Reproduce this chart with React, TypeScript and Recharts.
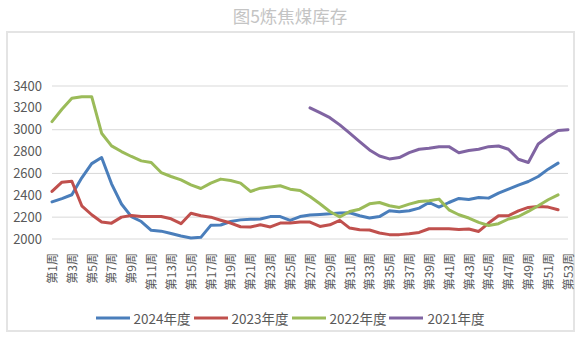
import React from "react";
import { LineChart, Line, XAxis, YAxis, CartesianGrid } from "recharts";

const weeks: string[] = Array.from({ length: 53 }, (_, i) => `第${i + 1}周`);

const s2024: (number | null)[] = [
  2340, 2370, 2405, 2560, 2690, 2745, 2505, 2320, 2205, 2160,
  2080, 2072, 2050, 2028, 2010, 2015, 2125, 2128, 2160, 2175,
  2180, 2183, 2205, 2205, 2170, 2205, 2220, 2225, 2230, 2238,
  2240, 2213, 2192, 2205, 2258, 2250, 2258, 2283, 2334, 2292,
  2334, 2371, 2362, 2380, 2374, 2420, 2456, 2493, 2526, 2572,
  2639, 2694, null,
];

const s2023: (number | null)[] = [
  2435, 2520, 2528, 2304, 2222, 2155, 2145, 2200, 2215, 2206,
  2206, 2206, 2185, 2140, 2235, 2213, 2200, 2172, 2146, 2112,
  2110, 2130, 2110, 2146, 2146, 2155, 2155, 2115, 2130, 2170,
  2100, 2085, 2082, 2055, 2040, 2040, 2048, 2060, 2094, 2094,
  2094, 2088, 2092, 2069, 2146, 2213, 2213, 2258, 2289, 2298,
  2292, 2267, null,
];

const s2022: (number | null)[] = [
  3074, 3187, 3287, 3302, 3302, 2968, 2852, 2800, 2755, 2715,
  2700, 2608, 2572, 2541, 2496, 2462, 2511, 2548, 2535, 2511,
  2435, 2465, 2475, 2487, 2456, 2444, 2389, 2322, 2252, 2201,
  2252, 2273, 2322, 2334, 2304, 2289, 2319, 2343, 2350, 2365,
  2267, 2222, 2192, 2152, 2124, 2140, 2183, 2206, 2252, 2304,
  2359, 2404, null,
];

const s2021: (number | null)[] = [
  null, null, null, null, null, null, null, null, null, null,
  null, null, null, null, null, null, null, null, null, null,
  null, null, null, null, null, null, 3200, 3156, 3110, 3044,
  2968, 2891, 2815, 2760, 2733, 2745, 2790, 2821, 2830, 2845,
  2845, 2790, 2809, 2821, 2845, 2851, 2821, 2730, 2700, 2870,
  2937, 2992, 3000,
];

const yTicks = [2000, 2200, 2400, 2600, 2800, 3000, 3200, 3400];
const seriesKeys = ["y2024", "y2023", "y2022", "y2021"];
const seriesNames = ["2024年度", "2023年度", "2022年度", "2021年度"];
const seriesColors = ["#4A7EBB", "#C0504D", "#9BBB59", "#8064A2"];
const seriesValues = [s2024, s2023, s2022, s2021];
const titleText = "图5炼焦煤库存";

const data = weeks.map((w, i) => {
  const row: Record<string, string | number | null> = { week: w };
  seriesKeys.forEach((k, j) => {
    row[k] = seriesValues[j][i];
  });
  return row;
});

const FONT = '"Noto Sans CJK SC", "Noto Sans", sans-serif';

const WeekTick = (props: any) => {
  const { x, y, payload } = props;
  return (
    <g transform={`translate(${x},${y})`}>
      <text
        transform="rotate(-90)"
        textAnchor="end"
        dy="0.4em"
        fill="#595959"
        fontSize={12}
        fontFamily={FONT}
      >
        {payload.value}
      </text>
    </g>
  );
};

export default function App() {
  return (
    <div
      style={{
        position: "absolute",
        left: 0,
        top: 0,
        width: 580,
        height: 337,
        background: "#ffffff",
        overflow: "hidden",
      }}
    >
      <div
        style={{
          position: "absolute",
          left: 0,
          top: 4,
          width: 580,
          textAlign: "center",
          fontSize: 17.5,
          color: "#c4c4c4",
          fontFamily: FONT,
          lineHeight: "24px",
        }}
      >
        {titleText}
      </div>
      <div
        style={{
          position: "absolute",
          left: 6,
          top: 31,
          width: 569,
          height: 301,
          boxSizing: "border-box",
          border: "2px solid #e4e4e4",
        }}
      />
      <div style={{ position: "absolute", left: 0, top: 0 }}>
        <LineChart
          width={580}
          height={337}
          data={data}
          margin={{ top: 86, right: 12, left: 0, bottom: 0 }}
        >
          <CartesianGrid vertical={false} stroke="#d9d9d9" strokeWidth={1} />
          <XAxis
            dataKey="week"
            interval={1}
            height={98}
            axisLine={false}
            tickLine={false}
            tickSize={6}
            tickMargin={8}
            tick={<WeekTick />}
          />
          <YAxis
            width={52}
            domain={[2000, 3400]}
            ticks={yTicks}
            axisLine={false}
            tickLine={false}
            tickSize={6}
            tickMargin={4}
            tick={{ fill: "#595959", fontSize: 13, fontFamily: FONT }}
          />
          {seriesKeys.map((k, j) => (
            <Line
              key={k}
              type="linear"
              dataKey={k}
              name={seriesNames[j]}
              stroke={seriesColors[j]}
              strokeWidth={3}
              dot={false}
              activeDot={false}
              strokeLinejoin="round"
              strokeLinecap="round"
              isAnimationActive={false}
            />
          ))}
        </LineChart>
      </div>
      <div
        style={{
          position: "absolute",
          left: 0,
          top: 308,
          width: 580,
          display: "flex",
          justifyContent: "center",
          alignItems: "center",
          fontFamily: FONT,
          fontSize: 13.5,
          color: "#595959",
          lineHeight: "20px",
        }}
      >
        {seriesNames.map((n, j) => (
          <div key={n} style={{ display: "flex", alignItems: "center", marginRight: j < 3 ? 3 : 0 }}>
            <svg width={34} height={4} style={{ marginRight: 4 }}>
              <line x1={0} y1={2} x2={34} y2={2} stroke={seriesColors[j]} strokeWidth={3} />
            </svg>
            <span>{n}</span>
          </div>
        ))}
      </div>
    </div>
  );
}
